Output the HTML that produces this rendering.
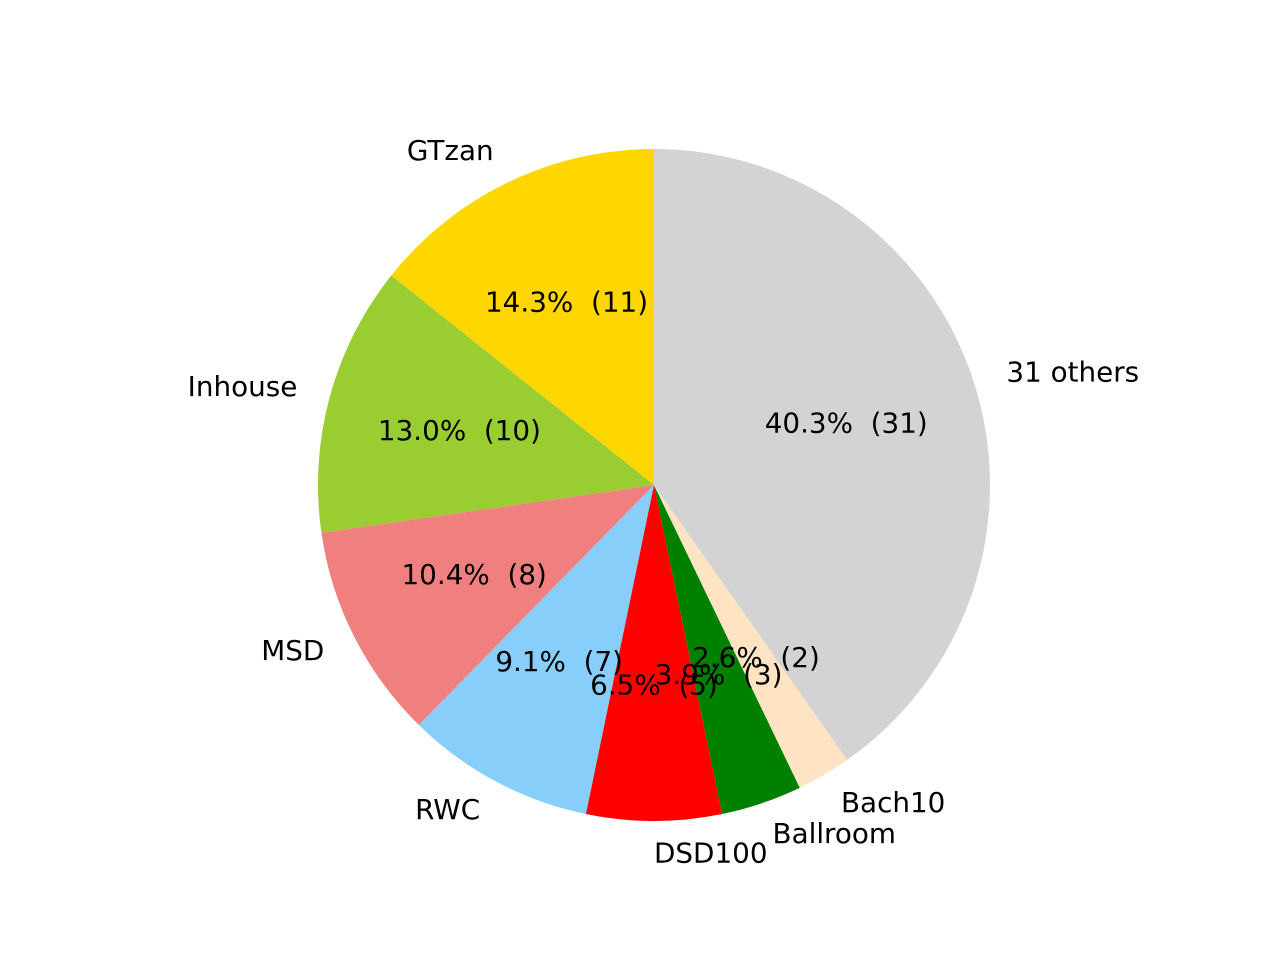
<!DOCTYPE html>
<html><head><meta charset="utf-8"><style>
html,body{margin:0;padding:0;background:#fff;}
svg text{font-family:"DejaVu Sans","Liberation Sans",sans-serif;font-size:27.8px;fill:#000;white-space:pre;}
</style></head><body>
<svg id="chart" width="1280" height="960" viewBox="0 0 1280 960" xmlns="http://www.w3.org/2000/svg">
<rect width="1280" height="960" fill="#fff"/>
</svg>
<script>
const categories = ["GTzan","Inhouse","MSD","RWC","DSD100","Ballroom","Bach10","31 others"];
const counts = [11,10,8,7,5,3,2,31];
const colors = ["#ffd700","#9acd32","#f08080","#87cefa","#ff0000","#008000","#ffe4c4","#d3d3d3"];
const cx=654, cy=485, R=336;
const svg=document.getElementById('chart');
const NS="http://www.w3.org/2000/svg";
const total=counts.reduce((a,b)=>a+b,0);
let a0=90;
const pt=(ang,r)=>[cx+r*Math.cos(ang*Math.PI/180), cy-r*Math.sin(ang*Math.PI/180)];
const texts=[];
counts.forEach((c,i)=>{
  const sweep=c/total*360, a1=a0+sweep;
  const [x0,y0]=pt(a0,R),[x1,y1]=pt(a1,R);
  const p=document.createElementNS(NS,'path');
  p.setAttribute('d',`M${cx},${cy} L${x0},${y0} A${R},${R} 0 ${sweep>180?1:0} 0 ${x1},${y1} Z`);
  p.setAttribute('fill',colors[i]);
  
  
  svg.appendChild(p);
  const mid=(a0+a1)/2;
  const [lx,ly]=pt(mid,R*1.1);
  const t=document.createElementNS(NS,'text');
  t.setAttribute('x',lx);t.setAttribute('y',ly-1.5);
  t.setAttribute('text-anchor',lx>=cx-0.5?'start':'end');
  t.setAttribute('dominant-baseline','central');
  t.textContent=categories[i];
  
  
  texts.push(t);
  const [px,py]=pt(mid,R*0.6);
  const q=document.createElementNS(NS,'text');
  q.setAttribute('x',px);q.setAttribute('y',py-1.5);
  q.setAttribute('text-anchor','middle');
  q.setAttribute('dominant-baseline','central');
  q.textContent=(c/total*100).toFixed(1)+'%  ('+c+')';
  
  
  texts.push(q);
  a0=a1;
});
texts.forEach(t=>svg.appendChild(t));
</script>
</body></html>
